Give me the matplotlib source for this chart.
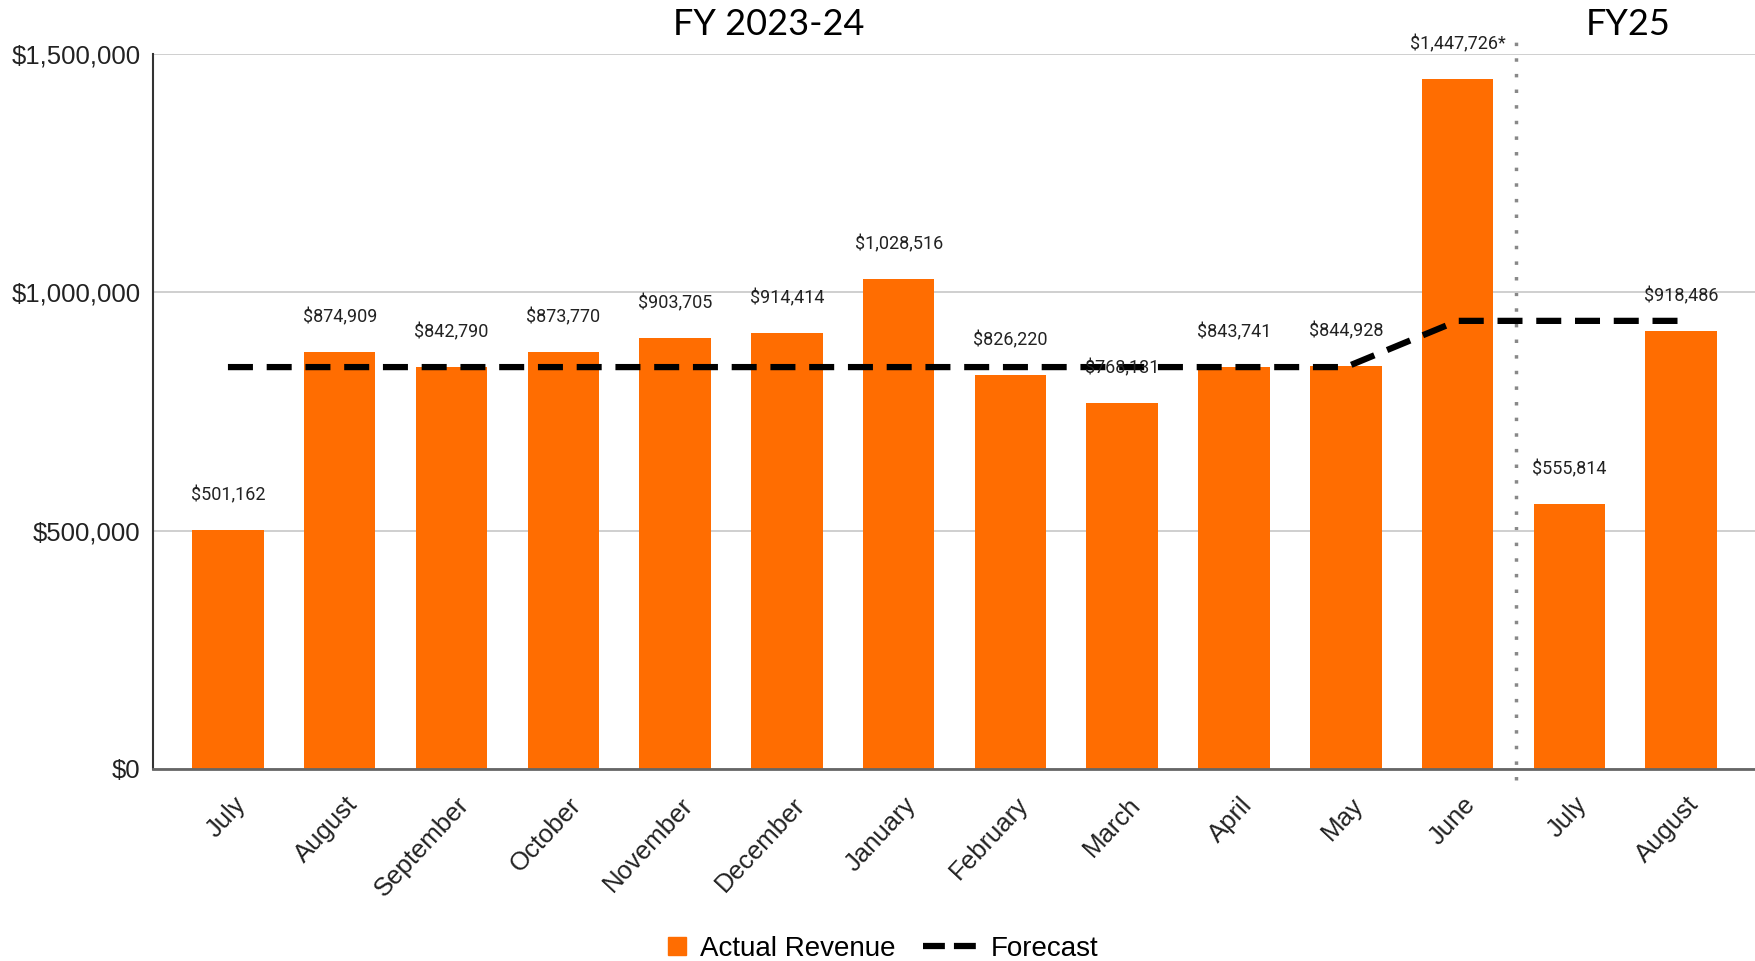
import matplotlib.pyplot as plt
import matplotlib.transforms as mtransforms
from matplotlib.lines import Line2D
from matplotlib.patches import Patch

months = ["July", "August", "September", "October", "November", "December", "January",
          "February", "March", "April", "May", "June", "July", "August"]
actual = [501162, 874909, 842790, 873770, 903705, 914414, 1028516,
          826220, 768131, 843741, 844928, 1447726, 555814, 918486]
forecast = [843000, 843000, 843000, 843000, 843000, 843000, 843000,
            843000, 843000, 843000, 843000, 940000, 940000, 940000]
value_labels = ["$501,162", "$874,909", "$842,790", "$873,770", "$903,705", "$914,414", "$1,028,516",
                "$826,220", "$768,131", "$843,741", "$844,928", "$1,447,726*", "$555,814", "$918,486"]
y_ticks = [0, 500000, 1000000, 1500000]
y_tick_labels = ["$0", "$500,000", "$1,000,000", "$1,500,000"]

orange = "#ff6d01"

fig = plt.figure(figsize=(17.55, 9.61), dpi=100)
ax = fig.add_axes([0.0872, 0.2, 0.9128, 0.7438])

x = list(range(len(months)))
ax.bar(x, actual, width=0.64, color=orange, zorder=2)
ax.plot(x, forecast, color="black", lw=4.5, dashes=(4, 2.2), zorder=3)

for xi, v, lab in zip(x, actual, value_labels):
    ax.annotate(lab, (xi, v), xytext=(0, 25), textcoords="offset points",
                ha="center", va="center", fontsize=13, family="Roboto", color="#222222", zorder=4)

# split between fiscal years
ax.axvline(11.52, ymin=-0.016, ymax=1.017, color="#888888", lw=2.5,
           linestyle=(0, (1, 3.5)), clip_on=False, zorder=1)

ax.set_xlim(-0.67, 13.66)
ax.set_ylim(0, 1500000)
ax.set_yticks(y_ticks)
ax.set_yticklabels(y_tick_labels, family="Liberation Sans", fontsize=18.5, color="#222222")
ax.set_xticks(x)
ax.set_xticklabels([])

# month labels at 45 degrees, ending just right of each bar centre
lab_tr = ax.get_xaxis_transform() + mtransforms.ScaledTranslation(0.14, -0.32, fig.dpi_scale_trans)
for xi, m in zip(x, months):
    ax.text(xi, 0, m, transform=lab_tr, rotation=47, ha="right", va="center",
            rotation_mode="anchor", family="Liberation Sans", fontsize=18.5,
            color="#222222", clip_on=False)

ax.tick_params(axis="both", length=0)
ax.tick_params(axis="y", pad=9)

ax.grid(axis="y", color="#cccccc", lw=1.3, zorder=0)
for s in ["top", "right"]:
    ax.spines[s].set_visible(False)
ax.spines["left"].set_color("#333333")
ax.spines["left"].set_linewidth(1.5)
ax.spines["bottom"].set_color("#666666")
ax.spines["bottom"].set_linewidth(2)

fig.text(0.438, 0.974, "FY 2023-24", ha="center", va="center", fontsize=26, family="Lato")
fig.text(0.928, 0.974, "FY25", ha="center", va="center", fontsize=26, family="Lato")

handles = [Patch(color=orange, label="Actual Revenue"),
           Line2D([0], [0], color="black", lw=4.5, dashes=(3.5, 1.45), label="Forecast")]
fig.legend(handles=handles, loc="center", bbox_to_anchor=(0.493, 0.013), ncol=2, frameon=False,
           prop={"family": "Liberation Sans", "size": 20}, handlelength=1.95, handleheight=0.6,
           columnspacing=1.0, handletextpad=0.5)
# make the revenue swatch a small square sitting next to its text
leg = fig.legends[0]
sq = leg.legend_handles[0]
h = sq.get_height()
sq.set_x(sq.get_x() + sq.get_width() - h)
sq.set_width(h)

fig.savefig("out.png", dpi=100)
